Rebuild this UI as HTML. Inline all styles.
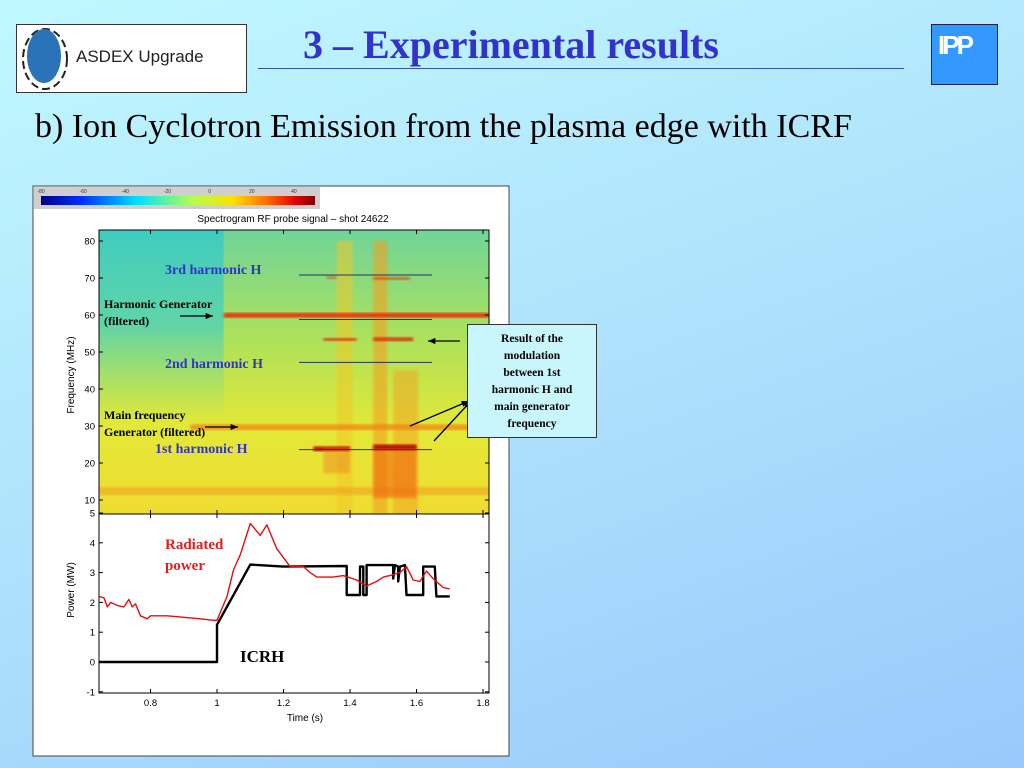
<!DOCTYPE html>
<html><head><meta charset="utf-8"><style>
html,body{margin:0;padding:0}
body{width:1024px;height:768px;position:relative;overflow:hidden;background:linear-gradient(160deg,#c0f8ff 0%,#b0e4fc 45%,#9ac8fc 100%);font-family:"Liberation Serif",serif}
.abs{position:absolute}
</style></head><body>
<div class="abs" style="left:16px;top:24px;width:229px;height:67px;background:#fff;border:1px solid #333">
 <svg width="60" height="67" style="position:absolute;left:0;top:0"><ellipse cx="28" cy="34" rx="22" ry="30" fill="none" stroke="#222" stroke-width="2" stroke-dasharray="8 4"/><ellipse cx="27" cy="31" rx="17" ry="27" fill="#2a73b8"/></svg>
 <div class="abs" style="left:59px;top:22px;font:17px 'Liberation Sans',sans-serif;color:#222">ASDEX Upgrade</div>
</div>
<div class="abs" style="left:258px;top:21px;width:506px;text-align:center;font-weight:bold;font-size:40px;color:#3333cc;line-height:48px">3 – Experimental results</div>
<div class="abs" style="left:258px;top:68px;width:646px;height:1px;background:#3355aa"></div>
<div class="abs" style="left:931px;top:24px;width:67px;height:61px;background:#3399ff;border:1px solid #224;color:#fff;font:bold 26px 'Liberation Sans',sans-serif;line-height:40px;letter-spacing:-3px;padding-left:6px;box-sizing:border-box">IPP</div>
<div class="abs" style="left:35px;top:108px;font-size:34px;color:#000;white-space:nowrap">b) Ion Cyclotron Emission from the plasma edge with ICRF</div>

<svg class="abs" style="left:0;top:0" width="1024" height="768" font-family="Liberation Sans, sans-serif">
<defs>
 <linearGradient id="cbar" x1="0" x2="1"><stop offset="0" stop-color="#00008f"/><stop offset="0.15" stop-color="#0030ff"/><stop offset="0.35" stop-color="#00e0ff"/><stop offset="0.55" stop-color="#b0ff50"/><stop offset="0.7" stop-color="#ffe000"/><stop offset="0.82" stop-color="#ff7000"/><stop offset="0.93" stop-color="#e00000"/><stop offset="1" stop-color="#800000"/></linearGradient>
 <linearGradient id="specbg" x1="0" y1="0" x2="0" y2="1"><stop offset="0" stop-color="#70d498"/><stop offset="0.4" stop-color="#b0e258"/><stop offset="0.7" stop-color="#e4e838"/><stop offset="1" stop-color="#f0dc30"/></linearGradient>
 <linearGradient id="specleft" x1="0" y1="0" x2="0" y2="1"><stop offset="0" stop-color="#40ccc0"/><stop offset="0.5" stop-color="#60d4a8"/><stop offset="1" stop-color="#a0e070" stop-opacity="0"/></linearGradient>
 <filter id="blur"><feGaussianBlur stdDeviation="1.2"/></filter>
 <clipPath id="specclip"><rect x="99" y="230" width="390" height="284"/></clipPath>
</defs>
<rect x="33" y="186" width="476" height="570" fill="#fff" stroke="#444"/>
<rect x="34" y="187" width="286" height="22" fill="#cfcfcf"/>
<rect x="41" y="196" width="274" height="9" fill="url(#cbar)"/>
<g id="cbticks" font-size="5" fill="#333"></g>
<text x="293" y="222" font-size="10" text-anchor="middle">Spectrogram RF probe signal – shot 24622</text>
<g id="spec" clip-path="url(#specclip)"></g>
<g id="axes"></g>
<g id="lines"></g>
</svg>

<div class="abs" style="left:165px;top:263px;font:bold 14px 'Liberation Serif',serif;color:#3333cc">3rd harmonic H</div>
<div class="abs" style="left:165px;top:357px;font:bold 14px 'Liberation Serif',serif;color:#3333cc">2nd harmonic H</div>
<div class="abs" style="left:155px;top:442px;font:bold 14px 'Liberation Serif',serif;color:#3333cc">1st harmonic H</div>
<div class="abs" style="left:104px;top:296px;font:bold 12px 'Liberation Serif',serif;color:#000;line-height:17px">Harmonic Generator<br>(filtered)</div>
<div class="abs" style="left:104px;top:407px;font:bold 12px 'Liberation Serif',serif;color:#000;line-height:17px">Main frequency<br>Generator (filtered)</div>
<div class="abs" style="left:467px;top:324px;width:130px;height:114px;background:#c8f6fc;border:1px solid #333;font:bold 11.5px 'Liberation Serif',serif;text-align:center;line-height:17px;padding-top:6px;box-sizing:border-box">Result of the<br>modulation<br>between 1st<br>harmonic H and<br>main generator<br>frequency</div>
<div class="abs" style="left:165px;top:535px;font:bold 15px 'Liberation Serif',serif;color:#e02020;line-height:21px">Radiated<br>power</div>
<div class="abs" style="left:240px;top:647px;font:bold 17px 'Liberation Serif',serif;color:#000">ICRH</div>

<script>
// ---- data ----
const freqTicks=[10,20,30,40,50,60,70,80];
const powerTicks=[-1,0,1,2,3,4,5];
const timeTicks=[0.8,1,1.2,1.4,1.6,1.8];
const cbarTicks=[-80,-60,-40,-20,0,20,40];
const icrhT=[0.645,1.0,1.0,1.1,1.2,1.39,1.39,1.43,1.43,1.44,1.44,1.45,1.45,1.53,1.53,1.535,1.545,1.545,1.55,1.565,1.57,1.62,1.62,1.655,1.66,1.70];
const icrhP=[0,0,1.25,3.27,3.2,3.22,2.25,2.25,3.2,3.2,2.25,2.25,3.25,3.25,2.8,3.25,3.2,2.7,3.2,3.25,2.25,2.25,3.2,3.2,2.2,2.2];
const radT=[0.645,0.66,0.67,0.68,0.70,0.72,0.735,0.745,0.755,0.77,0.79,0.80,0.85,0.90,0.95,0.99,1.0,1.03,1.05,1.07,1.10,1.13,1.15,1.18,1.20,1.22,1.26,1.28,1.30,1.35,1.38,1.42,1.45,1.48,1.50,1.52,1.55,1.57,1.59,1.61,1.63,1.65,1.68,1.70];
const radP=[2.2,2.15,1.85,2.0,1.9,1.85,2.1,1.85,1.95,1.55,1.45,1.55,1.55,1.5,1.45,1.4,1.4,2.2,3.1,3.6,4.65,4.25,4.6,3.8,3.5,3.2,3.2,3.0,2.85,2.85,2.9,2.75,2.55,2.7,2.85,2.9,3.0,3.2,2.75,2.7,3.05,2.8,2.5,2.45];
const harmonicFreqs=[70.8,58.8,47.2,23.6];

// ---- scales ----
const X=t=>217+(t-1)*332.5;
const YF=f=>241+(80-f)*3.7;
const YP=p=>662-p*29.8;
const NS="http://www.w3.org/2000/svg";
function mk(tag,parent,attrs){const e=document.createElementNS(NS,tag);for(const k in attrs)e.setAttribute(k,attrs[k]);parent.appendChild(e);return e;}

// colorbar ticks
const cb=document.getElementById('cbticks');
cbarTicks.forEach(v=>{const x=41+(v+80)/130*274;const t=mk('text',cb,{x:x,y:193,'text-anchor':'middle'});t.textContent=v;

});

// spectrogram
const sp=document.getElementById('spec');
let r=mk('rect',sp,{x:99,y:230,width:390,height:284,fill:'url(#specbg)'});


r=mk('rect',sp,{x:99,y:230,width:X(1.02)-99,height:190,fill:'url(#specleft)'});


const blobs=[[X(1.36),YF(80),16,284,'#f0c828',0.55],[X(1.47),YF(80),14,284,'#f0a020',0.6],[X(1.53),YF(45),25,235,'#f0a020',0.5],[X(1.02),YF(60.6),X(1.818)-X(1.02),5,'#e83010',0.95],[X(0.92),YF(30.5),X(1.818)-X(0.92),6,'#f08818',0.8],[99,YF(13.5),390,8,'#f0a020',0.6],[X(1.29),YF(24.5),X(1.4)-X(1.29),5,'#c00000',0.9],[X(1.47),YF(25),X(1.6)-X(1.47),6,'#b00000',0.95],[X(1.47),YF(24),X(1.6)-X(1.47),50,'#f06010',0.55],[X(1.32),YF(24),X(1.4)-X(1.32),25,'#f08020',0.45],[X(1.32),YF(53.8),X(1.42)-X(1.32),3,'#e02010',0.85],[X(1.47),YF(54),X(1.59)-X(1.47),4,'#e02010',0.85],[X(1.47),YF(70.3),X(1.58)-X(1.47),3,'#e04010',0.75],[X(1.33),YF(70.5),X(1.36)-X(1.33),3,'#e04010',0.6]];
blobs.forEach(b=>{const e=mk('rect',sp,{x:b[0],y:b[1],width:b[2],height:b[3],fill:b[4],opacity:b[5],filter:'url(#blur)'});

});

// axes
const ax=document.getElementById('axes');
r=mk('rect',ax,{x:99,y:230,width:390,height:284,fill:'none',stroke:'#000'});


r=mk('rect',ax,{x:99,y:514,width:390,height:179,fill:'none',stroke:'#000'});


freqTicks.forEach(f=>{const y=YF(f);const t=mk('text',ax,{x:95,y:y+3.5,'font-size':9.5,'text-anchor':'end'});t.textContent=f;


mk('line',ax,{x1:99,x2:103,y1:y,y2:y,stroke:'#000'});mk('line',ax,{x1:485,x2:489,y1:y,y2:y,stroke:'#000'});});
powerTicks.forEach(p=>{const y=YP(p);const t=mk('text',ax,{x:95,y:y+3.5,'font-size':9.5,'text-anchor':'end'});t.textContent=p;


mk('line',ax,{x1:99,x2:103,y1:y,y2:y,stroke:'#000'});mk('line',ax,{x1:485,x2:489,y1:y,y2:y,stroke:'#000'});});
timeTicks.forEach(tv=>{const x=X(tv);const t=mk('text',ax,{x:x,y:706,'font-size':9.5,'text-anchor':'middle'});t.textContent=tv;


[[693,689],[514,518],[514,510],[230,234]].forEach(a=>mk('line',ax,{x1:x,x2:x,y1:a[0],y2:a[1],stroke:'#000'}));});
let tl=mk('text',ax,{x:305,y:721,'font-size':10,'text-anchor':'middle'});tl.textContent='Time   (s)';


tl=mk('text',ax,{x:0,y:0,'font-size':10,'text-anchor':'middle',transform:'translate(74,375) rotate(-90)'});tl.textContent='Frequency (MHz)';


tl=mk('text',ax,{x:0,y:0,'font-size':10,'text-anchor':'middle',transform:'translate(74,590) rotate(-90)'});tl.textContent='Power    (MW)';



// annotation lines and arrows
const ln=document.getElementById('lines');
harmonicFreqs.forEach(f=>{const e=mk('line',ln,{x1:299,x2:432,y1:YF(f),y2:YF(f),stroke:'#223366','stroke-width':1});

});
function arrow(x1,y1,x2,y2,name){const g=mk('g',ln,{});
mk('line',g,{x1:x1,y1:y1,x2:x2,y2:y2,stroke:'#000','stroke-width':1.3});const a=Math.atan2(y2-y1,x2-x1),L=8;
mk('polygon',g,{points:`${x2},${y2} ${x2-L*Math.cos(a-0.4)},${y2-L*Math.sin(a-0.4)} ${x2-L*Math.cos(a+0.4)},${y2-L*Math.sin(a+0.4)}`,fill:'#000'});}
arrow(180,316,213,316,'arrow-harmonic-generator');
arrow(205,427,238,427,'arrow-main-generator');
arrow(460,341,428,341,'arrow-modulation-54');
arrow(410,426,469,401,'arrow-modulation-1');
arrow(434,441,471,401,'arrow-modulation-2');

// power series
function path(ts,ps,col,w,name){const d=ts.map((t,i)=>(i?'L':'M')+X(t).toFixed(1)+','+YP(ps[i]).toFixed(1)).join('');
const e=mk('path',ln,{d:d,fill:'none',stroke:col,'stroke-width':w,'stroke-linejoin':'round'});

}
path(icrhT,icrhP,'#000',2.4,'icrh-power-line');
path(radT,radP,'#e01010',1.4,'radiated-power-line');
</script>
</body></html>
